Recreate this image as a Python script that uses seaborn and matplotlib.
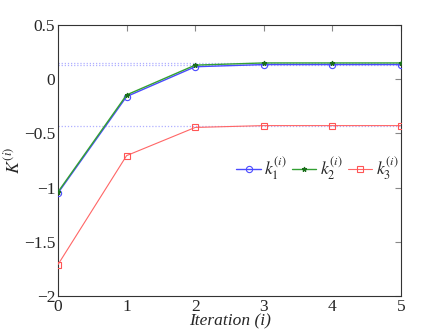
import matplotlib
matplotlib.use("Agg")
import matplotlib.pyplot as plt
import seaborn as sns
import pandas as pd

iterations = [0, 1, 2, 3, 4, 5]
k1 = [-1.05, -0.16, 0.115, 0.135, 0.135, 0.135]
k2 = [-1.04, -0.145, 0.13, 0.15, 0.15, 0.15]
k3 = [-1.71, -0.705, -0.445, -0.428, -0.428, -0.428]
ref_levels = [0.135, 0.15, -0.428]
series_labels = [r"$k_1^{(i)}$", r"$k_2^{(i)}$", r"$k_3^{(i)}$"]
yticks = [-2, -1.5, -1, -0.5, 0, 0.5]
ytick_labels = ["\u22122", "\u22121.5", "\u22121", "\u22120.5", "0", "0.5"]

sns.set_style("white")
plt.rcParams["font.family"] = ["Liberation Serif", "DejaVu Serif"]
plt.rcParams["mathtext.fontset"] = "stix"

df = pd.DataFrame({
    "it": iterations * 3,
    "val": k1 + k2 + k3,
    "series": [series_labels[0]] * 6 + [series_labels[1]] * 6 + [series_labels[2]] * 6,
})

fig = plt.figure(figsize=(4.43, 3.33), dpi=100)
ax = fig.add_axes([58 / 443, 1 - 296 / 333, (401 - 58) / 443, (296 - 25) / 333])

for lv in ref_levels:
    ax.axhline(lv, color="#b0b0ff", linestyle=(0, (1, 1.5)), linewidth=0.9, zorder=1)

styles = [dict(marker="o", ms=4.5, mfc="none", lw=1.0, color="#4a4aff", mec="#4a4aff"),
          dict(marker="*", ms=3.5, lw=1.0, color="#33a033", mec="#1a6e1a", mfc="#1a6e1a"),
          dict(marker="s", ms=4.0, mfc="none", lw=0.8, color="#ff6666", mec="#ff5555")]
for lab, st in zip(series_labels, styles):
    sub = df[df["series"] == lab]
    sns.lineplot(data=sub, x="it", y="val", ax=ax, label=lab, color=st["color"],
                 marker=st["marker"], markersize=st["ms"], markerfacecolor=st["mfc"],
                 markeredgecolor=st["mec"], linewidth=st["lw"], markeredgewidth=0.8,
                 zorder=3)

ax.set_xlim(0, 5)
ax.set_ylim(-2, 0.5)
ax.set_xticks(iterations)
ax.set_yticks(yticks)
ax.set_yticklabels(ytick_labels)
ax.tick_params(direction="in", top=True, right=True, labelsize=12.5, length=4,
               color="#888888", pad=2)
for s in ax.spines.values():
    s.set_color("#333333")
    s.set_linewidth(0.8)

ax.set_xlabel("Iteration (i)", fontsize=12.5, style="italic", labelpad=-1)
ax.set_ylabel(r"$K^{(i)}$", fontsize=13, labelpad=0)

leg = ax.legend(loc="center left", bbox_to_anchor=(0.52, 0.47), ncol=3, frameon=False,
                fontsize=12.5, handlelength=1.4, handletextpad=0.2, columnspacing=0.3,
                borderaxespad=0, borderpad=0)

fig.savefig("out.png", dpi=100)
